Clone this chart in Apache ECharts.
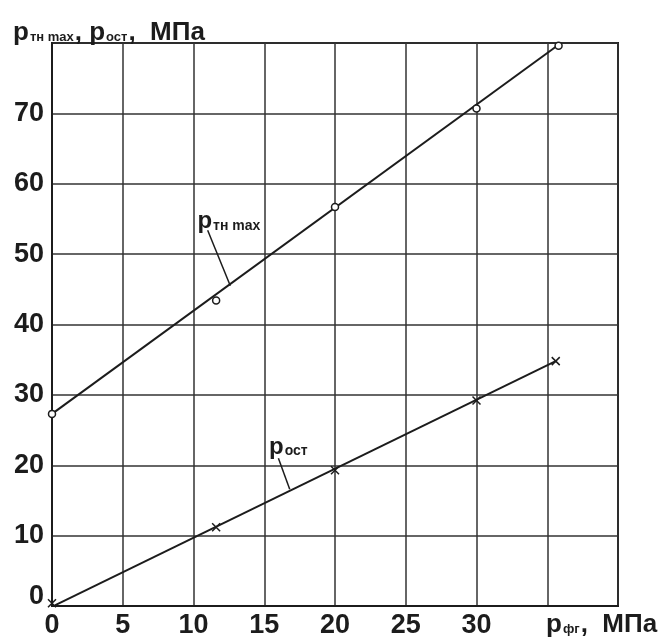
<!DOCTYPE html>
<html>
<head>
<meta charset="utf-8">
<script src="https://cdn.jsdelivr.net/npm/echarts@6/dist/echarts.min.js"></script>
<style>
  html, body { margin: 0; padding: 0; background: #fff; }
  #chart { width: 662px; height: 639px; }
</style>
</head>
<body>
<div id="chart"></div>
<script>
// measured points
const pfgTh = [0, 11.6, 20, 30, 35.8];
const pThMax = [27.3, 43.4, 56.7, 70.7, 79.6];
const pfgOst = [0, 11.6, 20, 30, 35.6];
const pOst = [0.4, 11.2, 19.3, 29.2, 34.8];

// drawn straight lines (end points)
const thLineX = [0, 35.9];
const thLineY = [27.3, 79.9];
const ostLineX = [0.2, 35.6];
const ostLineY = [0.1, 34.8];

// curve labels and leaders
const thLabelAt = [12.5, 54.6];
const thLeader = [[11.0, 53.4], [12.6, 45.5]];
const ostLabelAt = [16.7, 22.6];
const ostLeader = [[16.0, 21.0], [16.8, 16.6]];

const xTicks = [0, 5, 10, 15, 20, 25, 30];
const yTicks = [0, 10, 20, 30, 40, 50, 60, 70];

const ink = "#1c1c1c";
const font = "Liberation Sans";

const zip = (xs, ys) => xs.map((x, i) => [x, ys[i]]);

const crossSymbol = "path://M0,0L10,10M10,0L0,10";

const titleRich = {
  p: { fontFamily: font, fontSize: 26, fontWeight: "bold", color: ink },
  s: { fontFamily: font, fontSize: 13, fontWeight: "bold", color: ink, padding: [9, 1, 0, 1] },
};

const chart = echarts.init(document.getElementById("chart"));

chart.setOption({
  animation: false,
  backgroundColor: "#fff",
  grid: { left: 52, right: 44, top: 43, bottom: 32, show: true, borderColor: ink, borderWidth: 2 },
  title: [
    {
      text: "{p|p}{s|тн max}{p|, }{p|p}{s|ост}{p|,  МПа}",
      left: 8,
      top: 15,
      textStyle: { rich: titleRich },
    },
    {
      text: "{p|p}{s|фг}{p|,  МПа}",
      left: 541,
      top: 607,
      textStyle: { rich: titleRich },
    },
  ],
  xAxis: {
    type: "value",
    min: 0,
    max: 40,
    interval: 5,
    axisLine: { show: true, lineStyle: { color: ink, width: 2 } },
    axisTick: { show: false },
    splitLine: { show: true, lineStyle: { color: "#333", width: 1.5 } },
    axisLabel: {
      margin: 6,
      fontFamily: font,
      fontSize: 27,
      fontWeight: "bold",
      color: ink,
      formatter(v) {
        return xTicks.includes(v) ? String(v) : "";
      },
    },
  },
  yAxis: {
    type: "value",
    min: 0,
    max: 80,
    interval: 10,
    axisLine: { show: true, lineStyle: { color: ink, width: 2 } },
    axisTick: { show: false },
    splitLine: { show: true, lineStyle: { color: "#333", width: 1.5 } },
    axisLabel: {
      margin: 8,
      fontFamily: font,
      fontSize: 27,
      fontWeight: "bold",
      color: ink,
      formatter(v) {
        if (!yTicks.includes(v)) return "";
        return v === 0 ? "{z|0}" : String(v);
      },
      rich: {
        z: { fontFamily: font, fontSize: 27, fontWeight: "bold", color: ink, padding: [0, 0, 18, 0] },
      },
    },
  },
  series: [
    {
      name: "th line",
      type: "line",
      data: zip(thLineX, thLineY),
      showSymbol: false,
      lineStyle: { color: ink, width: 2 },
      markLine: {
        silent: true,
        symbol: "none",
        label: { show: false },
        lineStyle: { color: ink, width: 1.5, type: "solid" },
        data: [[{ coord: thLeader[0] }, { coord: thLeader[1] }]],
      },
    },
    {
      name: "ost line",
      type: "line",
      data: zip(ostLineX, ostLineY),
      showSymbol: false,
      lineStyle: { color: ink, width: 2 },
      markLine: {
        silent: true,
        symbol: "none",
        label: { show: false },
        lineStyle: { color: ink, width: 1.5, type: "solid" },
        data: [[{ coord: ostLeader[0] }, { coord: ostLeader[1] }]],
      },
    },
    {
      name: "pThMax",
      type: "scatter",
      data: zip(pfgTh, pThMax),
      symbol: "circle",
      symbolSize: 7,
      itemStyle: { color: "#fff", borderColor: ink, borderWidth: 1.5, opacity: 1 },
      z: 5,
    },
    {
      name: "pOst",
      type: "scatter",
      data: zip(pfgOst, pOst),
      symbol: crossSymbol,
      symbolSize: 8,
      itemStyle: { color: "transparent", borderColor: ink, borderWidth: 1.5, opacity: 1 },
      z: 5,
    },
    {
      name: "labels",
      type: "scatter",
      symbolSize: 0,
      silent: true,
      itemStyle: { color: ink, opacity: 1 },
      data: [
        { value: thLabelAt, name: "{p|p}{s|тн max}" },
        { value: ostLabelAt, name: "{p|p}{s|ост}" },
      ],
      label: {
        show: true,
        position: "inside",
        color: ink,
        opacity: 1,
        textBorderWidth: 0,
        formatter: (p) => p.name,
        rich: {
          p: { fontFamily: font, fontSize: 24, fontWeight: "bold", color: ink, textBorderWidth: 0 },
          s: { fontFamily: font, fontSize: 14, fontWeight: "bold", color: ink, textBorderWidth: 0, padding: [8, 0, 0, 1] },
        },
      },
    },
  ],
});
</script>
</body>
</html>
